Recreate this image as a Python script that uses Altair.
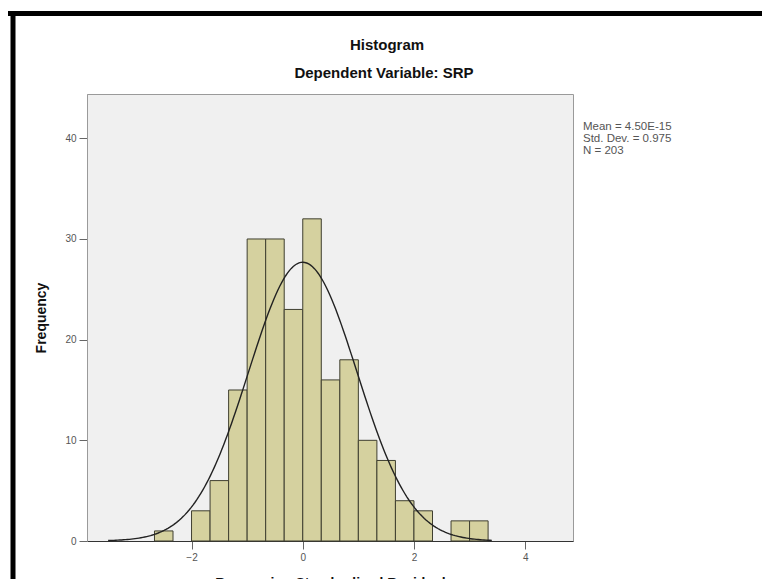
import altair as alt
import numpy as np
import pandas as pd

# ---- data ----
BIN_EDGES = [-8/3, -7/3, -2, -5/3, -4/3, -1, -2/3, -1/3, 0, 1/3, 2/3, 1, 4/3, 5/3, 2, 7/3, 8/3, 3, 10/3]
COUNTS = [1, 0, 3, 6, 15, 30, 30, 23, 32, 16, 18, 10, 8, 4, 3, 0, 2, 2]
X_TICKS = [-2, 0, 2, 4]
Y_TICKS = [0, 10, 20, 30, 40]
MEAN = 4.50e-15
STD = 0.975
N = 203
TITLE = "Histogram"
SUBTITLE = "Dependent Variable: SRP"
X_TITLE = "Regression Standardized Residual"
Y_TITLE = "Frequency"
STATS = ["Mean = 4.50E-15", "Std. Dev. = 0.975", "N = 203"]

FONT = "Liberation Sans"

hist_df = pd.DataFrame({
    "x0": BIN_EDGES[:-1],
    "x1": BIN_EDGES[1:],
    "count": COUNTS,
})
hist_df = hist_df[hist_df["count"] > 0].copy()
hist_df["base"] = 0

# fitted normal curve from the stated statistics
bw = BIN_EDGES[1] - BIN_EDGES[0]
cx = np.linspace(-3.5, 3.4, 200)
cy = N * bw * np.exp(-0.5 * ((cx - MEAN) / STD) ** 2) / (STD * np.sqrt(2 * np.pi))
curve_df = pd.DataFrame({"x": cx, "y": cy})

W, H = 486, 447
xs = alt.Scale(domain=[-3.88, 4.86], nice=False, zero=False)
ys = alt.Scale(domain=[0, 44.4], nice=False)

bars = alt.Chart(hist_df).mark_rect(
    fill="#d5d19f", stroke="#3f3f30", strokeWidth=1, opacity=1
).encode(
    x=alt.X("x0:Q", scale=xs, title=X_TITLE,
            axis=alt.Axis(values=X_TICKS, format="d", domainColor="#333333",
                          titlePadding=14)),
    x2="x1:Q",
    y=alt.Y("count:Q", scale=ys, title=Y_TITLE,
            axis=alt.Axis(values=Y_TICKS, format="d", domainColor="#9a9a9a",
                          titlePadding=16)),
    y2="base:Q",
)

curve = alt.Chart(curve_df).mark_line(color="#222222", strokeWidth=1.4).encode(
    x=alt.X("x:Q", scale=xs),
    y=alt.Y("y:Q", scale=ys),
)

one = pd.DataFrame({"a": [0]})

title_t = alt.Chart(pd.DataFrame({"t": [TITLE]})).mark_text(
    font=FONT, fontSize=15, fontWeight="bold", color="#111111",
    align="center", baseline="middle"
).encode(x=alt.value(300), y=alt.value(-49), text="t:N")

sub_t = alt.Chart(pd.DataFrame({"t": [SUBTITLE]})).mark_text(
    font=FONT, fontSize=15, fontWeight="bold", color="#111111",
    align="center", baseline="middle"
).encode(x=alt.value(297), y=alt.value(-21), text="t:N")

stats_t = alt.Chart(pd.DataFrame({"t": ["\n".join(STATS)]})).mark_text(
    font=FONT, fontSize=11.5, color="#555555", align="left", baseline="middle",
    lineBreak="\n", lineHeight=12
).encode(x=alt.value(496), y=alt.value(33), text="t:N")

# outer black frame of the picture
top_line = alt.Chart(one).mark_rule(color="black", strokeWidth=5).encode(
    x=alt.value(-80), x2=alt.value(682), y=alt.value(-80.5))
left_line = alt.Chart(one).mark_rule(color="black", strokeWidth=5).encode(
    x=alt.value(-74), y=alt.value(-83), y2=alt.value(500))
right_line = alt.Chart(one).mark_rule(color="black", strokeWidth=5).encode(
    x=alt.value(679), y=alt.value(-83), y2=alt.value(500))

chart = alt.layer(
    bars, curve, title_t, sub_t, stats_t, top_line, left_line, right_line
).properties(
    width=W, height=H,
    autosize=alt.AutoSizeParams(type="none"),
    padding={"left": 79, "top": 86, "right": 189, "bottom": 40},
    background="white",
).configure_view(
    fill="#f0f0f0", stroke="#9a9a9a", strokeWidth=1
).configure_axis(
    grid=False, labelFont=FONT, labelFontSize=10, labelColor="#555555",
    tickColor="#666666", tickSize=8, labelPadding=3,
    titleFont=FONT, titleFontSize=14, titleFontWeight="bold", titleColor="#111111",
)

chart.save("out.html", embed_options={"renderer": "svg", "actions": False})
